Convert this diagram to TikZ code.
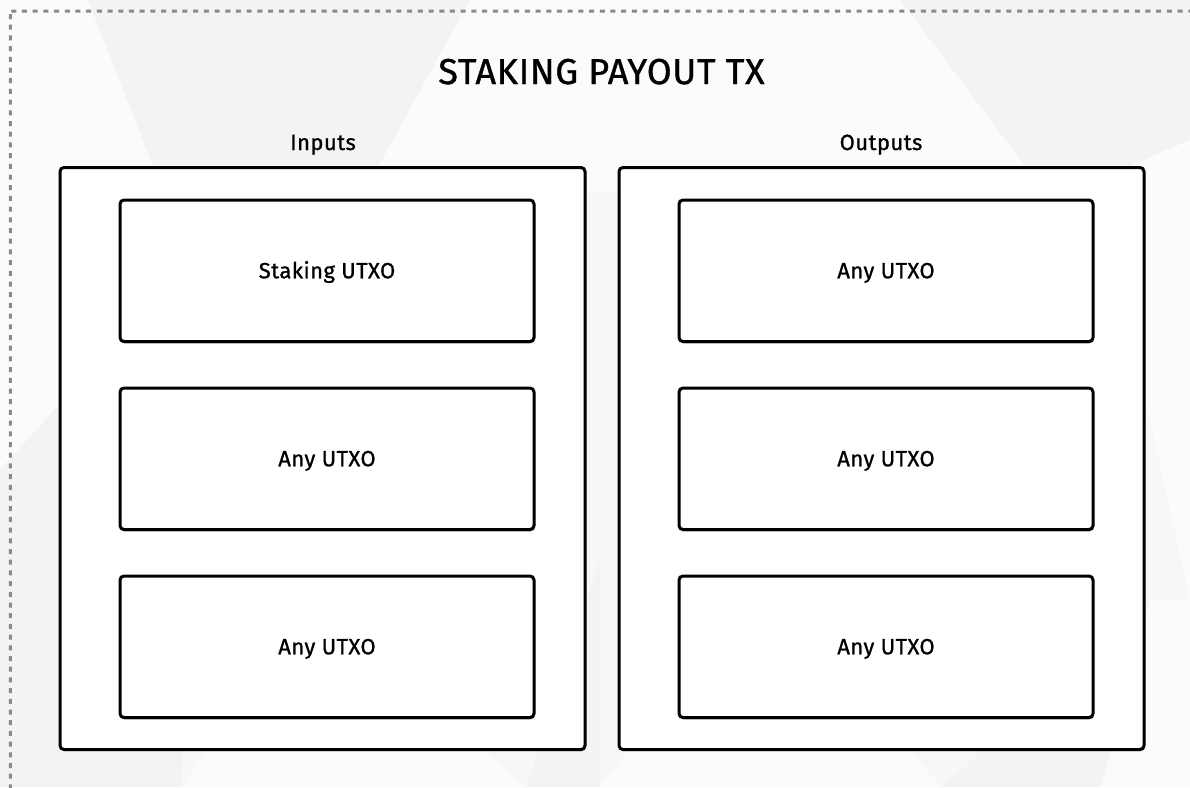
\documentclass[tikz,border=0pt]{standalone}
\usepackage{fontspec}
\setmainfont{Fira Sans}[FakeBold=1.0, LetterSpace=2]
\definecolor{bgbase}{HTML}{F7F7F7}
\definecolor{bglight}{HTML}{FBFBFB}
\definecolor{bgdark}{HTML}{F3F3F3}
\definecolor{framegray}{HTML}{8A8A8A}
\begin{document}
\begin{tikzpicture}[x=1pt,y=-1pt,
  facet/.style={fill=#1, draw=none},
  panel/.style={draw=black, line width=3pt, fill=white, rounded corners=4pt,
    inner sep=0pt, minimum width=525pt, minimum height=582pt},
  utxo/.style={draw=black, line width=3pt, fill=white, rounded corners=4pt,
    inner sep=0pt, minimum width=414pt, minimum height=141.5pt,
    font=\fontsize{22}{26}\selectfont, text height=15pt, text depth=0pt},
  caption/.style={anchor=base, font=\fontsize{22}{26}\selectfont},
  heading/.style={anchor=base, font=\fontsize{36}{42}\selectfont},
  dropshadow/.style={fill=black!45, draw=none, rounded corners=4pt}
]
\useasboundingbox (0,0) rectangle (1190,787);
\clip (0,0) rectangle (1190,787);

% faint low-poly backdrop
\fill[bgbase] (0,0) rectangle (1190,787);
\fill[facet=bglight] (0,0) -- (88,0) -- (190,260) -- (0,470) -- cycle;
\fill[facet=bgdark] (88,0) -- (470,0) -- (360,200) -- (190,260) -- cycle;
\fill[facet=bglight] (470,0) -- (900,0) -- (700,190) -- (360,200) -- cycle;
\fill[facet=bgdark] (900,0) -- (1190,0) -- (1190,140) -- (1050,200) -- cycle;
\fill[facet=bglight] (900,0) -- (1050,200) -- (700,190) -- cycle;
\fill[facet=bglight] (1190,140) -- (1190,600) -- (1150,420) -- (1050,200) -- cycle;
\fill[facet=bgdark] (0,470) -- (190,260) -- (182,787) -- (0,787) -- cycle;
\fill[facet=bglight] (182,787) -- (300,600) -- (527,787) -- cycle;
\fill[facet=bgdark] (527,787) -- (600,560) -- (600,787) -- cycle;
\fill[facet=bglight] (600,787) -- (760,580) -- (942,787) -- cycle;
\fill[facet=bgdark] (942,787) -- (1101,787) -- (1150,600) -- cycle;
\fill[facet=bglight] (1101,787) -- (1190,787) -- (1190,600) -- (1150,600) -- cycle;

% dashed outer frame, running past the right and bottom edges
\draw[framegray, line width=3pt, dash pattern=on 5pt off 5.7pt, rounded corners=3pt]
  (10.3,11) rectangle (1300,900);

% title and column captions
\node[heading] (title) at (601.5,84) {STAKING PAYOUT TX};
\node[caption] (inlbl) at (323,150) {Inputs};
\node[caption] (outlbl) at (881,150) {Outputs};

% column panels with a slight drop shadow
\fill[dropshadow] (60,169) rectangle (586,751);
\fill[dropshadow] (619,169) rectangle (1145,751);
\node[panel] (inputs) at (322.5,458.5) {};
\node[panel] (outputs) at (881.5,458.5) {};

% input entries
\foreach \y/\t/\n in {270.75/Staking UTXO/in1, 458.75/Any UTXO/in2, 646.75/Any UTXO/in3}{
  \fill[dropshadow] (120,\y-69.5) rectangle (535,\y+72.5);
  \node[utxo] (\n) at (327,\y) {\t};
}
% output entries
\foreach \y/\t/\n in {270.75/Any UTXO/out1, 458.75/Any UTXO/out2, 646.75/Any UTXO/out3}{
  \fill[dropshadow] (679,\y-69.5) rectangle (1094,\y+72.5);
  \node[utxo] (\n) at (886,\y) {\t};
}
\end{tikzpicture}
\end{document}
